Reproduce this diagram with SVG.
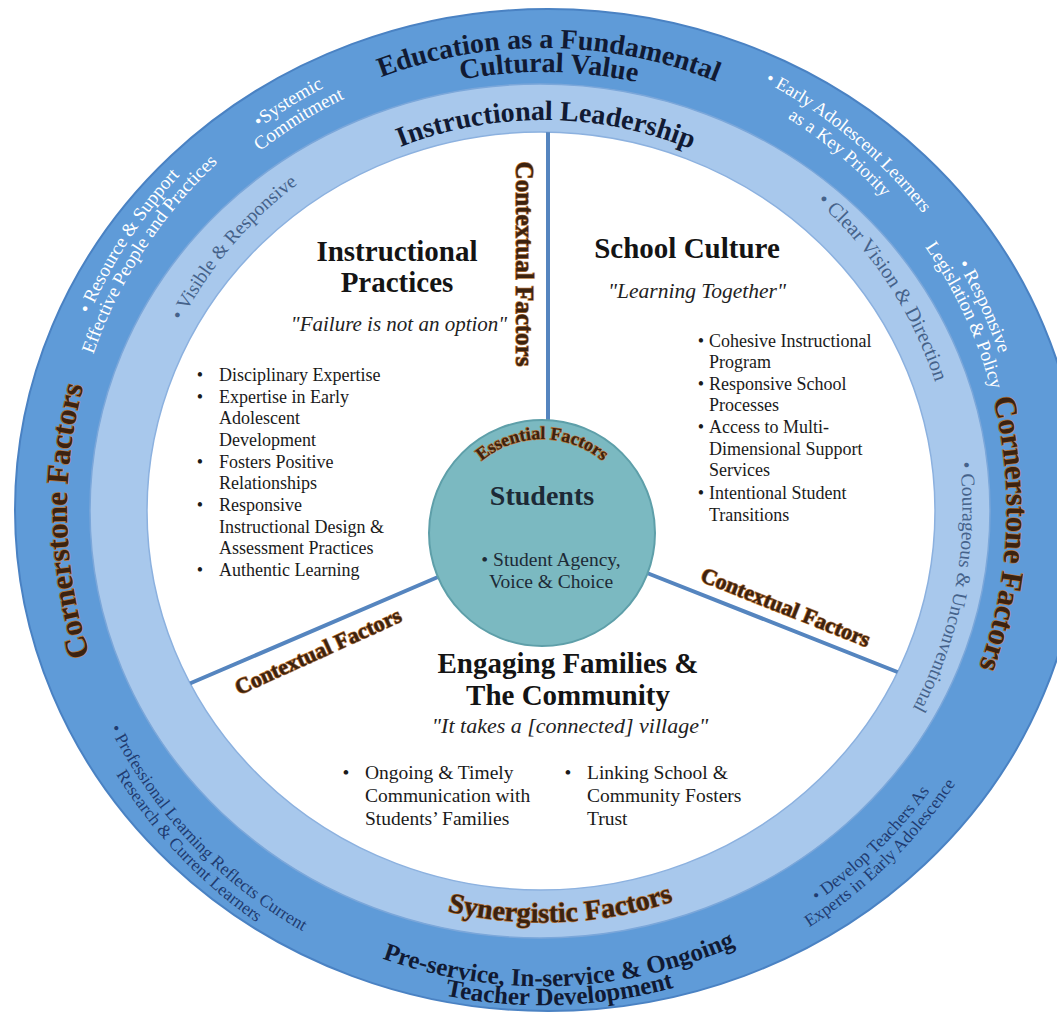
<svg xmlns="http://www.w3.org/2000/svg" width="1057" height="1019" viewBox="0 0 1057 1019">
<style>
text{font-family:"Liberation Serif","Times New Roman",serif}
.navy{fill:#111a33;font-weight:bold}
.wa{fill:#3b2210;stroke:#b9773a;stroke-width:1.4px;paint-order:stroke fill;font-weight:bold}
.wh{fill:#ffffff}
.lr{fill:#45628a}
.db{fill:#1f3b70}
.hdr{font-weight:bold;fill:#141414;font-size:29px;text-anchor:middle}
.quote{font-style:italic;fill:#222222;text-anchor:middle}
.b18{fill:#1a1a1a;font-size:18px}
.b19{fill:#1a1a1a;font-size:19.5px}
.mid{text-anchor:middle}
.conn{stroke:#5585bf;stroke-width:4;fill:none;stroke-linecap:round}
</style>
<defs>
<clipPath id="whiteClip"><ellipse cx="541" cy="511" rx="394" ry="379"/></clipPath>
<path id="p-edu" d="M537 972A1 1 0 0 1 549 48A1 1 0 0 1 537 972"/>
<path id="p-cult" d="M537 948A1 1 0 0 1 549 72A1 1 0 0 1 537 948"/>
<path id="p-cornL" d="M1019 499A1 1 0 0 1 67 521A1 1 0 0 1 1019 499"/>
<path id="p-cornR" d="M80 486A1 1 0 0 1 1006 534A1 1 0 0 1 80 486"/>
<path id="p-pre" d="M526 34A1 1 0 0 0 560 986A1 1 0 0 0 526 34"/>
<path id="p-teach" d="M526 15A1 1 0 0 0 560 1005A1 1 0 0 0 526 15"/>
<path id="p-syn" d="M525 98A1 1 0 0 0 561 922A1 1 0 0 0 525 98"/>
<path id="p-lead" d="M540 900A1 1 0 0 1 546 120A1 1 0 0 1 540 900"/>
<path id="p-vis" d="M854 774A1 1 0 0 1 232 246A1 1 0 0 1 854 774"/>
<path id="p-clear" d="M198 736A1 1 0 0 1 888 284A1 1 0 0 1 198 736"/>
<path id="p-cour" d="M131 431A1 1 0 0 1 955 589A1 1 0 0 1 131 431"/>
<path id="p-sys" d="M795.2 913.6A1 1 0 0 1 290.8 106.4A1 1 0 0 1 795.2 913.6"/>
<path id="p-com" d="M785.2 897.5A1 1 0 0 1 300.8 122.5A1 1 0 0 1 785.2 897.5"/>
<path id="p-res" d="M957.3 779A1 1 0 0 1 128.7 241A1 1 0 0 1 957.3 779"/>
<path id="p-eff" d="M942.2 769.2A1 1 0 0 1 143.8 250.8A1 1 0 0 1 942.2 769.2"/>
<path id="p-early" d="M235.1 880.9A1 1 0 0 1 850.9 139.1A1 1 0 0 1 235.1 880.9"/>
<path id="p-key" d="M247.9 865.5A1 1 0 0 1 838.1 154.5A1 1 0 0 1 247.9 865.5"/>
<path id="p-resp" d="M105.4 712.2A1 1 0 0 1 980.6 307.8A1 1 0 0 1 105.4 712.2"/>
<path id="p-leg" d="M121.8 704.6A1 1 0 0 1 964.2 315.4A1 1 0 0 1 121.8 704.6"/>
<path id="p-prof" d="M894.8 176.1A1 1 0 0 0 191.2 843.9A1 1 0 0 0 894.8 176.1"/>
<path id="p-res2" d="M907.2 164.4A1 1 0 0 0 178.8 855.6A1 1 0 0 0 907.2 164.4"/>
<path id="p-dev" d="M208 169A1 1 0 0 0 878 851A1 1 0 0 0 208 169"/>
<path id="p-exp" d="M196.1 156.9A1 1 0 0 0 889.9 863.1A1 1 0 0 0 196.1 156.9"/>
<path id="p-ess" d="M542 627A1 1 0 0 1 542 439A1 1 0 0 1 542 627"/>
</defs>
<rect width="1057" height="1019" fill="#ffffff"/>

<g id="outer-ring">
<ellipse cx="548" cy="510" rx="533" ry="501" fill="#5f9bd8" stroke="#4a82c3" stroke-width="2"/>
<text class="navy mid" font-size="28"><textPath href="#p-edu" startOffset="50%">Education as a Fundamental</textPath></text>
<text class="navy mid" font-size="28"><textPath href="#p-cult" startOffset="50%">Cultural Value</textPath></text>
<text class="wa mid" font-size="31"><textPath href="#p-cornL" startOffset="50%">Cornerstone Factors</textPath></text>
<text class="wa mid" font-size="31"><textPath href="#p-cornR" startOffset="50%">Cornerstone Factors</textPath></text>
<text class="navy mid" font-size="25"><textPath href="#p-pre" startOffset="50%">Pre-service, In-service &amp; Ongoing</textPath></text>
<text class="navy mid" font-size="25"><textPath href="#p-teach" startOffset="50%">Teacher Development</textPath></text>
<text class="wh mid" font-size="19"><textPath href="#p-sys" startOffset="50%">•Systemic</textPath></text>
<text class="wh mid" font-size="19"><textPath href="#p-com" startOffset="50%">Commitment</textPath></text>
<text class="wh mid" font-size="19"><textPath href="#p-res" startOffset="50%">• Resource &amp; Support</textPath></text>
<text class="wh mid" font-size="19"><textPath href="#p-eff" startOffset="50%">Effective People and Practices</textPath></text>
<text class="wh mid" font-size="18.5"><textPath href="#p-early" startOffset="50%">• Early Adolescent Learners</textPath></text>
<text class="wh mid" font-size="18.5"><textPath href="#p-key" startOffset="50%">as a Key Priority</textPath></text>
<text class="wh mid" font-size="19"><textPath href="#p-resp" startOffset="50%">• Responsive</textPath></text>
<text class="wh mid" font-size="19"><textPath href="#p-leg" startOffset="50%">Legislation &amp; Policy</textPath></text>
<text class="db mid" font-size="17.5"><textPath href="#p-prof" startOffset="50%">• Professional Learning Reflects Current</textPath></text>
<text class="db mid" font-size="17.5"><textPath href="#p-res2" startOffset="50%">Research &amp; Current Learners</textPath></text>
<text class="db mid" font-size="17.5"><textPath href="#p-dev" startOffset="50%">• Develop Teachers As</textPath></text>
<text class="db mid" font-size="17.5"><textPath href="#p-exp" startOffset="50%">Experts in Early Adolescence</textPath></text>
</g>

<g id="middle-ring">
<ellipse cx="540" cy="511" rx="450" ry="427" fill="#a8c8ec" stroke="#7ba7da" stroke-width="1.5"/>
<text class="navy mid" font-size="28"><textPath href="#p-lead" startOffset="50%">Instructional Leadership</textPath></text>
<text class="wa mid" font-size="28"><textPath href="#p-syn" startOffset="50%">Synergistic Factors</textPath></text>
<text class="lr mid" font-size="19.5"><textPath href="#p-vis" startOffset="50%">• Visible &amp; Responsive</textPath></text>
<text class="lr mid" font-size="20.5"><textPath href="#p-clear" startOffset="50%">• Clear Vision &amp; Direction</textPath></text>
<text class="lr mid" font-size="19.5"><textPath href="#p-cour" startOffset="50%">• Courageous &amp; Unconventional</textPath></text>
</g>

<g id="inner-area">
<ellipse cx="541" cy="511" rx="394" ry="379" fill="#ffffff" stroke="#8cb1df" stroke-width="1.5"/>
</g>

<g id="connectors" clip-path="url(#whiteClip)">
<line class="conn" x1="548" y1="120" x2="548" y2="421"/>
<line class="conn" x1="438" y1="577" x2="170" y2="692"/>
<line class="conn" x1="647" y1="573" x2="905" y2="675"/>
</g>

<g id="contextual-labels">
<text class="wa mid" font-size="25" transform="translate(516,264) rotate(90)">Contextual Factors</text>
<text class="wa mid" font-size="22" transform="translate(321,658) rotate(-24.4)">Contextual Factors</text>
<text class="wa mid" font-size="22" transform="translate(783,614) rotate(21.7)">Contextual Factors</text>
</g>

<g id="students">
<circle cx="542" cy="533" r="113" fill="#7bb9c1" stroke="#5e9fa9" stroke-width="2"/>
<text class="wa mid" font-size="18"><textPath href="#p-ess" startOffset="50%">Essential Factors</textPath></text>
<text class="mid" x="542" y="505" font-size="28" font-weight="bold" fill="#1d2a36">Students</text>
<text class="mid" x="551" y="566" font-size="19.5" fill="#1d2a36">• Student Agency,</text>
<text class="mid" x="551" y="588" font-size="19.5" fill="#1d2a36">Voice &amp; Choice</text>
</g>

<g id="instructional-practices">
<text class="hdr" x="397" y="261">Instructional</text>
<text class="hdr" x="397" y="292">Practices</text>
<text class="quote" x="399" y="331" font-size="21">"Failure is not an option"</text>
<g class="b18">
<text class="mid" x="200" y="381">•</text><text x="219" y="381">Disciplinary Expertise</text>
<text class="mid" x="200" y="403">•</text><text x="219" y="403">Expertise in Early</text>
<text x="219" y="424">Adolescent</text>
<text x="219" y="446">Development</text>
<text class="mid" x="200" y="468">•</text><text x="219" y="468">Fosters Positive</text>
<text x="219" y="489">Relationships</text>
<text class="mid" x="200" y="511">•</text><text x="219" y="511">Responsive</text>
<text x="219" y="533">Instructional Design &amp;</text>
<text x="219" y="554">Assessment Practices</text>
<text class="mid" x="200" y="576">•</text><text x="219" y="576">Authentic Learning</text>
</g>
</g>

<g id="school-culture">
<text class="hdr" x="687" y="258">School Culture</text>
<text class="quote" x="697" y="298" font-size="21.5">"Learning Together"</text>
<g class="b18">
<text class="mid" x="701" y="347">•</text><text x="709" y="347">Cohesive Instructional</text>
<text x="709" y="368">Program</text>
<text class="mid" x="701" y="390">•</text><text x="709" y="390">Responsive School</text>
<text x="709" y="411">Processes</text>
<text class="mid" x="701" y="433">•</text><text x="709" y="433">Access to Multi-</text>
<text x="709" y="455">Dimensional Support</text>
<text x="709" y="476">Services</text>
<text class="mid" x="701" y="499">•</text><text x="709" y="499">Intentional Student</text>
<text x="709" y="521">Transitions</text>
</g>
</g>

<g id="engaging-families">
<text class="hdr" x="568" y="673">Engaging Families &amp;</text>
<text class="hdr" x="568" y="705">The Community</text>
<text class="quote" x="570" y="733" font-size="22">"It takes a [connected] village"</text>
<g class="b19">
<text class="mid" x="346" y="779">•</text><text x="365" y="779">Ongoing &amp; Timely</text>
<text x="365" y="802">Communication with</text>
<text x="365" y="825">Students’ Families</text>
<text class="mid" x="568" y="779">•</text><text x="587" y="779">Linking School &amp;</text>
<text x="587" y="802">Community Fosters</text>
<text x="587" y="825">Trust</text>
</g>
</g>
</svg>
